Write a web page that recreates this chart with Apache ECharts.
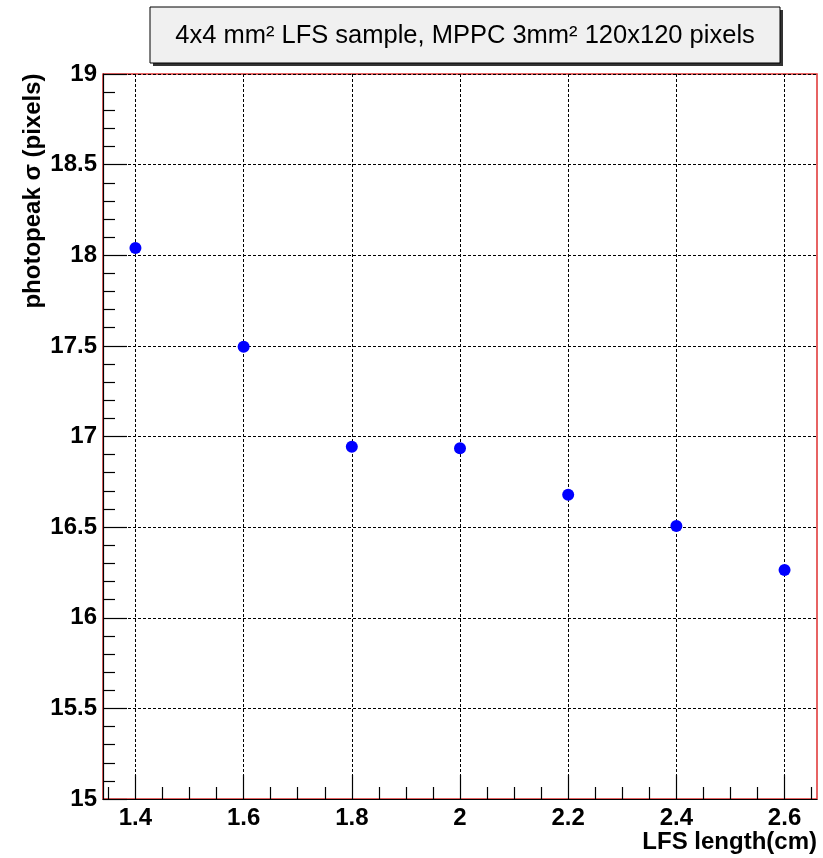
<!DOCTYPE html>
<html><head><meta charset="utf-8">
<script src="https://cdn.jsdelivr.net/npm/echarts@6/dist/echarts.min.js"></script>
<style>html,body{margin:0;padding:0;background:#fff}#c{width:823px;height:858px}</style>
</head><body><div id="c"></div>
<script>
const lengths = [1.4, 1.6, 1.8, 2.0, 2.2, 2.4, 2.6];
const sigmas = [18.04, 17.495, 16.943, 16.935, 16.678, 16.506, 16.263];
const xMajorTicks = [1.4, 1.6, 1.8, 2.0, 2.2, 2.4, 2.6];
const xMinorTicks = [1.35, 1.45, 1.5, 1.55, 1.65, 1.7, 1.75, 1.85, 1.9, 1.95, 2.05, 2.1, 2.15, 2.25, 2.3, 2.35, 2.45, 2.5, 2.55, 2.65];
const titleText = '4x4 mm² LFS sample, MPPC 3mm² 120x120 pixels';
const xTitle = 'LFS length(cm)';
const yTitle = 'photopeak σ (pixels)';

const FONT = "'Liberation Sans', Arial, Helvetica, sans-serif";
const chart = echarts.init(document.getElementById('c'), null, {renderer: 'canvas'});
const dash = [3, 2];
chart.setOption({
  animation: false,
  backgroundColor: '#fff',
  grid: {left: 103, top: 74, right: 6, bottom: 59, show: true, borderColor: '#e03030', borderWidth: 1.5, backgroundColor: 'transparent'},
  xAxis: [{
    type: 'value', min: 1.34, max: 2.66, position: 'bottom',
    axisLine: {show: true, onZero: false, lineStyle: {color: '#000', width: 1.2}},
    axisTick: {show: true, inside: true, length: 24, customValues: xMajorTicks, lineStyle: {color: '#000', width: 1.2}},
    axisLabel: {customValues: xMajorTicks, fontSize: 24, fontWeight: 'bold', color: '#000', fontFamily: FONT, margin: 7},
    splitLine: {show: true, lineStyle: {type: dash, color: '#000', width: 1}},
    minorTick: {show: false}
  }, {
    type: 'value', min: 1.34, max: 2.66, position: 'bottom',
    axisLine: {show: false},
    axisTick: {show: true, inside: true, length: 12, customValues: xMinorTicks, lineStyle: {color: '#000', width: 1.2}},
    axisLabel: {show: false},
    splitLine: {show: false}
  }],
  yAxis: {
    type: 'value', min: 15, max: 19, interval: 0.5,
    axisLine: {show: true, onZero: false, lineStyle: {color: '#000', width: 1.2}},
    axisTick: {show: true, inside: true, length: 24, lineStyle: {color: '#000', width: 1.2}},
    minorTick: {show: true, splitNumber: 5, length: 12, lineStyle: {color: '#000', width: 1.2}},
    axisLabel: {fontSize: 24, fontWeight: 'bold', color: '#000', fontFamily: FONT, margin: 6},
    splitLine: {show: true, lineStyle: {type: dash, color: '#000', width: 1}}
  },
  series: [{
    type: 'scatter', xAxisIndex: 0,
    data: lengths.map((x, i) => [x, sigmas[i]]),
    symbol: 'circle', symbolSize: 12,
    itemStyle: {color: '#0000ff', opacity: 1}
  }],
  graphic: [
    {type: 'rect', shape: {x: 153, y: 10, width: 630, height: 56}, style: {fill: '#333'}, z: 10},
    {type: 'rect', shape: {x: 150, y: 7, width: 630, height: 56}, style: {fill: '#f0f0f0', stroke: '#000', lineWidth: 1}, z: 11},
    {type: 'text', x: 465, y: 36, z: 12, style: {text: titleText, font: '25.5px ' + FONT, fill: '#000', align: 'center', verticalAlign: 'middle'}},
    {type: 'text', x: 33, y: 191, rotation: Math.PI / 2, z: 12, style: {text: yTitle, font: 'bold 24px ' + FONT, fill: '#000', align: 'center', verticalAlign: 'middle'}},
    {type: 'text', x: 817, y: 842, z: 12, style: {text: xTitle, font: 'bold 24px ' + FONT, fill: '#000', align: 'right', verticalAlign: 'middle'}}
  ]
});
</script></body></html>
